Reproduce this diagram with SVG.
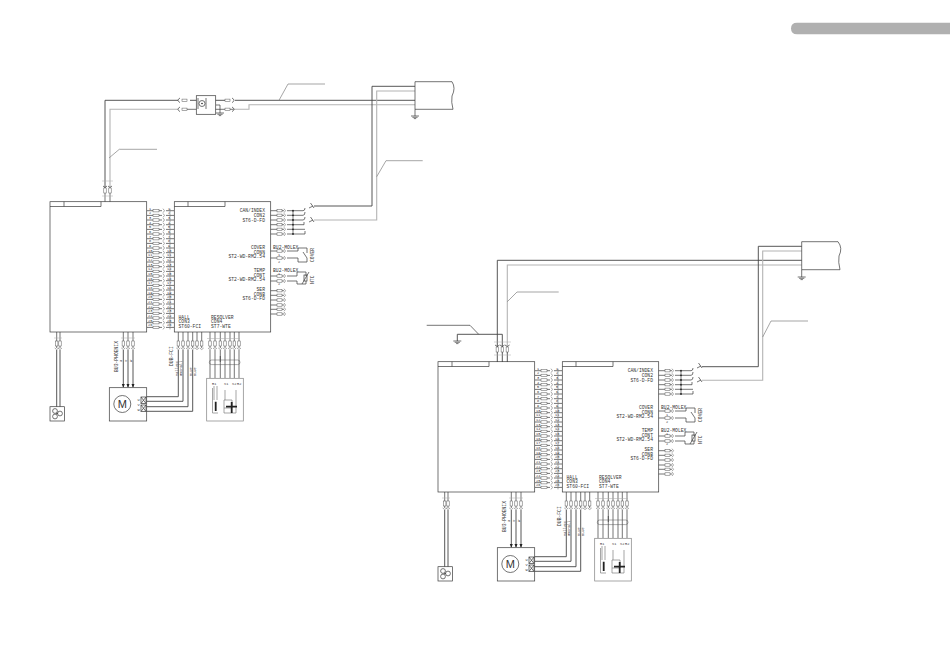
<svg xmlns="http://www.w3.org/2000/svg" width="950" height="672" viewBox="0 0 950 672">
<style>
.l{fill:none;stroke:#3a3a3a;stroke-width:.7}
.w{fill:none;stroke:#444;stroke-width:.9}
.g{fill:none;stroke:#b4b4b4;stroke-width:1.1}
.c{fill:none;stroke:#808080;stroke-width:.7}
.t{fill:none;stroke:#aaa;stroke-width:.5}
.r{fill:#fff;stroke:#555;stroke-width:.5}
.k{fill:#222;stroke:none}
text{font-family:"Liberation Mono",monospace;font-size:4.7px;fill:#333}
.e{text-anchor:end}
.n{font-size:3.6px}
.m{font-family:"Liberation Sans",sans-serif;font-size:11px;text-anchor:middle}
</style>
<defs>
<g id="hrow"><path class="l" d="M147 0H153M159 0H162M166 0H174"/><path class="c" d="M163 -2Q166 0 163 2M170 -2V2"/><rect class="r" x="153" y="-1.2" width="6" height="2.4"/></g>
<g id="xrow"><path class="l" d="M270.7 0H277M282 0H284"/><path class="c" d="M284 -2Q287 0 284 2"/><rect class="r" x="277" y="-1.2" width="5" height="2.4"/></g>
<g id="vpin"><path class="l" d="M0 332V341M0 346V348"/><path class="c" d="M-2 348Q0 351 2 348"/><rect class="r" x="-1.2" y="341" width="2.4" height="5"/></g>
<path id="gnd" class="l" d="M-4 0H4M-2.6 1.3H2.6M-1.2 2.6H1.2"/>
<g id="boxes">
<rect class="l" x="50" y="201.7" width="96.7" height="130.3" fill="#fff"/>
<path class="l" d="M50 206.5H101V201.7M64 201.7V206.5"/>
<rect class="l" x="174.3" y="201.7" width="96.4" height="130.3" fill="#fff"/>
<path class="l" d="M174.3 206.5H225V201.7M188 201.7V206.5"/>
</g>
<g id="pins">
<use href="#hrow" y="210.7"/><use href="#hrow" y="215.4"/><use href="#hrow" y="220"/><use href="#hrow" y="224.7"/><use href="#hrow" y="229.4"/><use href="#hrow" y="234"/><use href="#hrow" y="238.7"/><use href="#hrow" y="243.4"/><use href="#hrow" y="248"/><use href="#hrow" y="252.7"/><use href="#hrow" y="257.4"/><use href="#hrow" y="262"/><use href="#hrow" y="266.7"/><use href="#hrow" y="271.4"/><use href="#hrow" y="276"/><use href="#hrow" y="280.7"/><use href="#hrow" y="285.4"/><use href="#hrow" y="290"/><use href="#hrow" y="294.7"/><use href="#hrow" y="299.4"/><use href="#hrow" y="304"/><use href="#hrow" y="308.7"/><use href="#hrow" y="313.4"/><use href="#hrow" y="318"/><use href="#hrow" y="322.7"/><use href="#hrow" y="327.4"/>
<use href="#xrow" y="210.7"/><use href="#xrow" y="215.3"/><use href="#xrow" y="220"/><use href="#xrow" y="224.7"/><use href="#xrow" y="229.3"/><use href="#xrow" y="234"/>
<path class="l" d="M287 210.7H303Q305 210.7 305 208M287 215.3H303Q305 215.3 305 212M287 220H303Q305 220 305 217M287 224.7H304V222M287 229.3H305M287 234H305V231M293 210.7V234M309 208L313 206M310.5 203L314 208M309 222L313 220M310.5 217L314 222"/>
<circle class="k" cx="293" cy="210.7" r=".9"/><circle class="k" cx="293" cy="215.3" r=".9"/><circle class="k" cx="293" cy="220" r=".9"/><circle class="k" cx="293" cy="224.7" r=".9"/><circle class="k" cx="293" cy="229.3" r=".9"/><circle class="k" cx="293" cy="234" r=".9"/>
<use href="#xrow" y="251"/><use href="#xrow" y="258"/><use href="#xrow" y="276"/><use href="#xrow" y="281"/>
<use href="#xrow" y="290.7"/><use href="#xrow" y="295.3"/><use href="#xrow" y="300"/><use href="#xrow" y="305"/><use href="#xrow" y="309.3"/><use href="#xrow" y="314"/>
<path class="l" d="M287 251H298V248H307V253M287 258H298V262H307V258L303 252M287 276H297V272H306V276M287 281H297V284H306V281M302 284L309 272"/>
<rect class="l" x="304" y="275" width="3" height="6"/>
<use href="#vpin" x="56.7"/><use href="#vpin" x="60"/>
<use href="#vpin" x="123.3"/><use href="#vpin" x="128"/><use href="#vpin" x="133"/>
<use href="#vpin" x="178.3"/><use href="#vpin" x="183"/><use href="#vpin" x="188"/><use href="#vpin" x="192.7"/><use href="#vpin" x="197"/><use href="#vpin" x="201.7"/>
<use href="#vpin" x="210"/><use href="#vpin" x="215"/><use href="#vpin" x="220.3"/><use href="#vpin" x="225"/><use href="#vpin" x="230"/><use href="#vpin" x="234.3"/><use href="#vpin" x="239"/>
<path class="t" d="M54 338H62M121 338H135M207 338.5H240"/>
<path class="w" d="M56.7 350V406.7M60 350V406.7M123.3 350V387M128 350V387M133 350V387"/>
<path class="k" d="M121.8 384H124.8L123.3 387.7ZM126.5 384H129.5L128 387.7ZM131.5 384H134.5L133 387.7Z"/>
<path class="w" d="M178.3 350V396.7H146.7M183 350V401.3H146.7M188 350V406.7H146.7M192.7 350V411.3H146.7"/>
<path class="l" d="M210 350V378M215 350V378M220.3 350V378M225 350V378M230 350V378M234.3 350V378M239 350V378M220.3 356V362"/>
<rect class="r" x="209.3" y="360" width="30.7" height="4.6" rx="2.3" fill="none" style="fill:none"/>
</g>
<g id="fan"><rect class="l" x="50" y="406.7" width="14.5" height="14.3" fill="#fff"/><circle class="l" cx="55" cy="411" r="2.4"/><circle class="l" cx="60" cy="413.5" r="2.4"/><circle class="l" cx="55" cy="416.5" r="2.4"/><circle class="k" cx="57" cy="413.5" r=".7"/></g>
<g id="motor"><rect class="l" x="109.3" y="387.7" width="37.4" height="33.3" fill="#fff"/><circle class="l" cx="122.3" cy="404" r="8.5"/><rect class="l" x="141" y="397" width="5" height="6.5"/><path class="l" d="M141 397L146 403.5M146 397L141 403.5"/><rect class="l" x="141" y="405" width="5" height="6.5"/><path class="l" d="M141 405L146 411.5M146 405L141 411.5"/></g>
<g id="resolver"><rect class="c" x="206.7" y="378.3" width="36.6" height="42.7" fill="#fff"/>
<path class="c" d="M214 386V400M217 386V400M212.5 413H218M212.5 413V388M225 390V400M236 390V413H224V408M224 400H232V408H224Z"/>
<path fill="none" stroke="#222" stroke-width="1.8" d="M215.7 401.7V411M226 406.7H237M231.7 402V413"/></g>
</defs>
<g id="header-tab"><path d="M950 22.7H797Q791 22.7 791 28.5T797 34.3H950Z" fill="#b0b0b0"/></g>
<g id="connectors">
<path class="w" d="M105 188V100.3H178M190 100.3H196.3M215.7 100.3H225M235 100.3H415"/>
<path class="g" d="M110 188V109.3H178"/>
<path class="l" d="M187 109.3H196.3M215.7 109.3H225M230 109.3H233"/>
<path class="g" d="M233 109.3H249V104.7H415"/>
<path class="w" d="M314 206H372V86.3H415"/>
<path class="g" d="M314 220H376.7V91H415"/>
<path class="l" d="M105 193V201.7M110 193V201.7"/>
<path class="t" d="M102 181H113M102 196H113"/>
<path class="l" d="M180 98Q176 100.3 180 102.6M180 107Q176 109.3 180 111.6M232 98Q236 100.3 232 102.6M232 107Q236 109.3 232 111.6M103 186Q105 189 107 186M108 186Q110 189 112 186"/>
<path class="l" d="M216 105H220V113"/>
<use href="#gnd" x="220" y="113"/>
<path class="c" d="M279 100.3L288 84H325M109 158L119.3 149.3H157M376.7 176.7L386 160.7H422.7"/>
<path class="l" d="M415 109.3V116"/>
<use href="#gnd" x="415" y="116"/>
<path class="w" d="M497.3 347V260.3H801.7M502.3 347V334.3H457.3V341M497.3 352V362M502.3 352V362M507.3 352V362"/>
<path class="g" d="M507.3 347V265H801.7"/>
<path class="w" d="M702 366.7H758.3V246.3H801.7"/>
<path class="g" d="M702 380.3H762.7V251H801.7"/>
<use href="#gnd" x="457.3" y="341"/>
<path class="l" d="M801.7 269.7V277"/>
<use href="#gnd" x="801.7" y="277"/>
<path class="c" d="M507.3 301.7L517 292H558.7M762.7 337L771 321H808"/>
<path class="l" d="M426.7 325.3H470L478.7 334.3"/>
<path class="t" d="M494 342H511M494 355H511"/>
<path class="l" d="M495 345Q497.3 348 499.6 345M500 345Q502.3 348 504.6 345M505 345Q507.3 348 509.6 345"/>
<rect class="r" x="496.1" y="347" width="2.4" height="5"/><rect class="r" x="501.1" y="347" width="2.4" height="5"/><rect class="r" x="506.1" y="347" width="2.4" height="5"/>
<use href="#pins"/>
<use href="#pins" transform="translate(388 160)"/>
</g>
<g id="mains-filter"><rect class="l" x="196.3" y="95.7" width="19.4" height="18.6" fill="#fff"/><circle class="l" cx="202" cy="103.5" r="3"/><circle class="k" cx="202" cy="103.5" r=".8"/><path class="l" d="M198 98V109M206 98V109"/><rect class="r" x="182" y="99.1" width="5" height="2.4"/><rect class="r" x="182" y="108.1" width="5" height="2.4"/><rect class="r" x="225" y="99.1" width="5" height="2.4"/><rect class="r" x="225" y="108.1" width="5" height="2.4"/><rect class="r" x="103.8" y="188" width="2.4" height="5"/><rect class="r" x="108.8" y="188" width="2.4" height="5"/></g>
<g id="supply-a"><path class="l" d="M415 109.3V81.7H452Q456 88 452 96Q451 102 453 109.3H415"/></g>
<g id="supply-b"><path class="l" d="M801.7 269.7V241.7H838Q843 248 839 256Q838 262 840 269.7H801.7"/></g>
<g id="drive-a">
<use href="#boxes"/>
<text class="e" x="265" y="212">CAN/INDEX</text><text class="e" x="265" y="217">CON2</text><text class="e" x="265" y="221.5">ST6-D-FD</text>
<text class="e" x="265" y="249">COVER</text><text class="e" x="265" y="253.5">CONN</text><text class="e" x="265" y="258">ST2-WD-RM2.54</text>
<text x="273" y="249">BU2-MOLEX</text><text class="n" x="278" y="256">1</text><text class="n" x="278" y="263">2</text>
<text class="e" x="265" y="271.5">TEMP</text><text class="e" x="265" y="276.5">CONT</text><text class="e" x="265" y="281">ST2-WD-RM2.54</text>
<text x="273" y="271.5">BU2-MOLEX</text><text class="n" x="278" y="275">1</text><text class="n" x="278" y="285">2</text>
<text class="e" x="265" y="290.5">SER</text><text class="e" x="265" y="295.5">CONB</text><text class="e" x="265" y="300">ST6-D-FD</text>
<text x="178.5" y="318.5">HALL</text><text x="178.5" y="323">CON3</text><text x="178.5" y="327.5">ST60-FCI</text>
<text x="211" y="318.5">RESOLVER</text><text x="211" y="323">CON4</text><text x="211" y="327.5">ST7-WTE</text>
<text transform="translate(314 262) rotate(-90)">COVER</text><text transform="translate(314 284) rotate(-90)">NTC</text>
<text transform="translate(118 372) rotate(-90)">BU3-PHOENIX</text><text transform="translate(173 366) rotate(-90)">DUB-FCI</text>
<g class="pn"><text class="n" x="149" y="209.6">1</text><text class="n" x="168" y="209.6">1</text><text class="n" x="149" y="214.3">2</text><text class="n" x="168" y="214.3">2</text><text class="n" x="149" y="219">3</text><text class="n" x="168" y="219">3</text><text class="n" x="149" y="223.6">4</text><text class="n" x="168" y="223.6">4</text><text class="n" x="149" y="228.3">5</text><text class="n" x="168" y="228.3">5</text><text class="n" x="149" y="233">6</text><text class="n" x="168" y="233">6</text><text class="n" x="149" y="237.6">7</text><text class="n" x="168" y="237.6">7</text><text class="n" x="149" y="242.3">8</text><text class="n" x="168" y="242.3">8</text><text class="n" x="149" y="247">9</text><text class="n" x="168" y="247">9</text><text class="n" x="148" y="251.6">10</text><text class="n" x="167" y="251.6">10</text><text class="n" x="148" y="256.3">11</text><text class="n" x="167" y="256.3">11</text><text class="n" x="148" y="261">12</text><text class="n" x="167" y="261">12</text><text class="n" x="148" y="265.6">13</text><text class="n" x="167" y="265.6">13</text><text class="n" x="148" y="270.3">14</text><text class="n" x="167" y="270.3">14</text><text class="n" x="148" y="275">15</text><text class="n" x="167" y="275">15</text><text class="n" x="148" y="279.6">16</text><text class="n" x="167" y="279.6">16</text><text class="n" x="148" y="284.3">17</text><text class="n" x="167" y="284.3">17</text><text class="n" x="148" y="289">18</text><text class="n" x="167" y="289">18</text><text class="n" x="148" y="293.6">19</text><text class="n" x="167" y="293.6">19</text><text class="n" x="148" y="298.3">20</text><text class="n" x="167" y="298.3">20</text><text class="n" x="148" y="303">21</text><text class="n" x="167" y="303">21</text><text class="n" x="148" y="307.6">22</text><text class="n" x="167" y="307.6">22</text><text class="n" x="148" y="312.3">23</text><text class="n" x="167" y="312.3">23</text><text class="n" x="148" y="317">24</text><text class="n" x="167" y="317">24</text><text class="n" x="148" y="321.6">25</text><text class="n" x="167" y="321.6">25</text><text class="n" x="148" y="326.3">26</text><text class="n" x="167" y="326.3">26</text></g>
<text class="n" transform="translate(177.5 376) rotate(-90)">HallVcc</text><text class="n" transform="translate(182 376) rotate(-90)">GNDHall</text><text class="n" transform="translate(191.5 376) rotate(-90)">BLUe</text><text class="n" transform="translate(196 376) rotate(-90)">BLUe</text>
<text class="n" transform="translate(122 362) rotate(-90)">U</text><text class="n" transform="translate(127 362) rotate(-90)">V</text><text class="n" transform="translate(132 362) rotate(-90)">W</text>
</g>
<g id="fan-a"><use href="#fan"/></g>
<g id="motor-a"><use href="#motor"/><text class="m" x="122.3" y="408">M</text><text class="n" x="137.5" y="401">U</text><text class="n" x="137.5" y="406">V</text><text class="n" x="137.5" y="411">W</text></g>
<g id="resolver-a"><use href="#resolver"/><text class="n" x="212" y="385">R1</text><text class="n" x="224" y="385">S1</text><text class="n" x="232" y="385">S2</text><text class="n" x="237" y="385">R2</text></g>
<g id="drive-b" transform="translate(388 160)">
<use href="#boxes"/>
<text class="e" x="265" y="212">CAN/INDEX</text><text class="e" x="265" y="217">CON2</text><text class="e" x="265" y="221.5">ST6-D-FD</text>
<text class="e" x="265" y="249">COVER</text><text class="e" x="265" y="253.5">CONN</text><text class="e" x="265" y="258">ST2-WD-RM2.54</text>
<text x="273" y="249">BU2-MOLEX</text><text class="n" x="278" y="256">1</text><text class="n" x="278" y="263">2</text>
<text class="e" x="265" y="271.5">TEMP</text><text class="e" x="265" y="276.5">CONT</text><text class="e" x="265" y="281">ST2-WD-RM2.54</text>
<text x="273" y="271.5">BU2-MOLEX</text><text class="n" x="278" y="275">1</text><text class="n" x="278" y="285">2</text>
<text class="e" x="265" y="290.5">SER</text><text class="e" x="265" y="295.5">CONB</text><text class="e" x="265" y="300">ST6-D-FD</text>
<text x="178.5" y="318.5">HALL</text><text x="178.5" y="323">CON3</text><text x="178.5" y="327.5">ST60-FCI</text>
<text x="211" y="318.5">RESOLVER</text><text x="211" y="323">CON4</text><text x="211" y="327.5">ST7-WTE</text>
<text transform="translate(314 262) rotate(-90)">COVER</text><text transform="translate(314 284) rotate(-90)">NTC</text>
<text transform="translate(118 372) rotate(-90)">BU3-PHOENIX</text><text transform="translate(173 366) rotate(-90)">DUB-FCI</text>
<g class="pn"><text class="n" x="149" y="209.6">1</text><text class="n" x="168" y="209.6">1</text><text class="n" x="149" y="214.3">2</text><text class="n" x="168" y="214.3">2</text><text class="n" x="149" y="219">3</text><text class="n" x="168" y="219">3</text><text class="n" x="149" y="223.6">4</text><text class="n" x="168" y="223.6">4</text><text class="n" x="149" y="228.3">5</text><text class="n" x="168" y="228.3">5</text><text class="n" x="149" y="233">6</text><text class="n" x="168" y="233">6</text><text class="n" x="149" y="237.6">7</text><text class="n" x="168" y="237.6">7</text><text class="n" x="149" y="242.3">8</text><text class="n" x="168" y="242.3">8</text><text class="n" x="149" y="247">9</text><text class="n" x="168" y="247">9</text><text class="n" x="148" y="251.6">10</text><text class="n" x="167" y="251.6">10</text><text class="n" x="148" y="256.3">11</text><text class="n" x="167" y="256.3">11</text><text class="n" x="148" y="261">12</text><text class="n" x="167" y="261">12</text><text class="n" x="148" y="265.6">13</text><text class="n" x="167" y="265.6">13</text><text class="n" x="148" y="270.3">14</text><text class="n" x="167" y="270.3">14</text><text class="n" x="148" y="275">15</text><text class="n" x="167" y="275">15</text><text class="n" x="148" y="279.6">16</text><text class="n" x="167" y="279.6">16</text><text class="n" x="148" y="284.3">17</text><text class="n" x="167" y="284.3">17</text><text class="n" x="148" y="289">18</text><text class="n" x="167" y="289">18</text><text class="n" x="148" y="293.6">19</text><text class="n" x="167" y="293.6">19</text><text class="n" x="148" y="298.3">20</text><text class="n" x="167" y="298.3">20</text><text class="n" x="148" y="303">21</text><text class="n" x="167" y="303">21</text><text class="n" x="148" y="307.6">22</text><text class="n" x="167" y="307.6">22</text><text class="n" x="148" y="312.3">23</text><text class="n" x="167" y="312.3">23</text><text class="n" x="148" y="317">24</text><text class="n" x="167" y="317">24</text><text class="n" x="148" y="321.6">25</text><text class="n" x="167" y="321.6">25</text><text class="n" x="148" y="326.3">26</text><text class="n" x="167" y="326.3">26</text></g>
<text class="n" transform="translate(177.5 376) rotate(-90)">HallVcc</text><text class="n" transform="translate(182 376) rotate(-90)">GNDHall</text><text class="n" transform="translate(191.5 376) rotate(-90)">BLUe</text><text class="n" transform="translate(196 376) rotate(-90)">BLUe</text>
<text class="n" transform="translate(122 362) rotate(-90)">U</text><text class="n" transform="translate(127 362) rotate(-90)">V</text><text class="n" transform="translate(132 362) rotate(-90)">W</text>
</g>
<g id="fan-b" transform="translate(388 160)"><use href="#fan"/></g>
<g id="motor-b" transform="translate(388 160)"><use href="#motor"/><text class="m" x="122.3" y="408">M</text><text class="n" x="137.5" y="401">U</text><text class="n" x="137.5" y="406">V</text><text class="n" x="137.5" y="411">W</text></g>
<g id="resolver-b" transform="translate(388 160)"><use href="#resolver"/><text class="n" x="212" y="385">R1</text><text class="n" x="224" y="385">S1</text><text class="n" x="232" y="385">S2</text><text class="n" x="237" y="385">R2</text></g>
</svg>
